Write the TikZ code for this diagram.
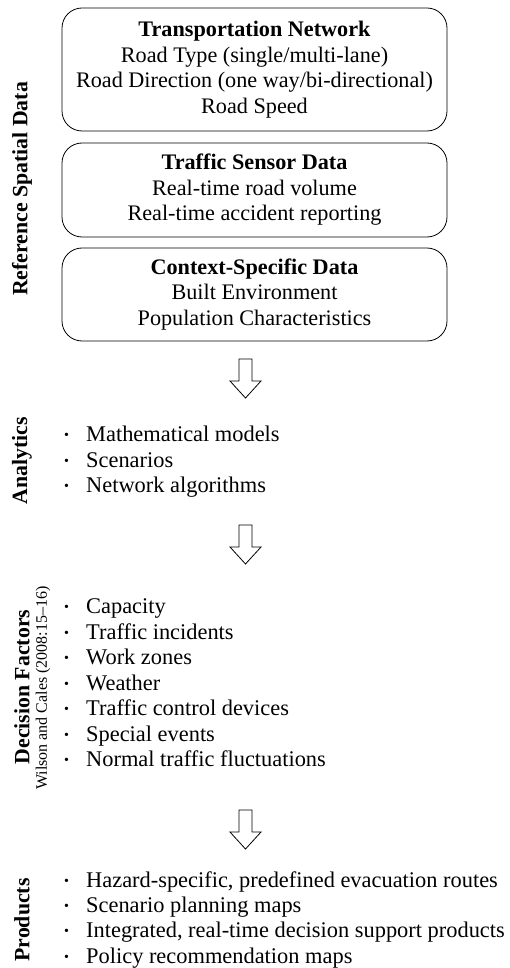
\documentclass[tikz,border=0pt]{standalone}
\usepackage{fontspec}
\setmainfont{Liberation Serif}
\usetikzlibrary{positioning,calc}
\newcommand{\itembul}{\makebox[22pt][l]{\raisebox{2pt}{\fontsize{14}{14}\selectfont\textbullet}}}

\begin{document}
\begin{tikzpicture}[x=1pt, y=-1pt,
    databox/.style={rectangle, rounded corners=20pt, draw=black, line width=0.8pt,
                minimum width=385pt, align=center, inner sep=0pt,
                font=\fontsize{22.2}{25.5}\selectfont},
    sidelabel/.style={rotate=90, inner sep=0pt,
                font=\fontsize{21.8}{25}\selectfont\bfseries},
    srcnote/.style={rotate=90, inner sep=0pt, font=\fontsize{16}{18}\selectfont},
    listitem/.style={anchor=base west, inner sep=0pt,
                font=\fontsize{22.4}{25}\selectfont},
    flowarrow/.style={draw=black, line width=0.8pt, fill=white, line join=miter},
]
\useasboundingbox (0,0) rectangle (510,968);

% reference spatial data
\node[databox, minimum height=123pt] (transnet) at (254.5,69.5) {
    \textbf{Transportation Network}\\
    Road Type (single/multi-lane)\\
    Road Direction (one way/bi-directional)\\
    Road Speed
};
\node[databox, minimum height=94pt] (sensor) at (254.5,190) {
    \textbf{Traffic Sensor Data}\\
    Real-time road volume\\
    Real-time accident reporting
};
\node[databox, minimum height=93pt] (context) at (254.5,294.5) {
    \textbf{Context-Specific Data}\\
    Built Environment\\
    Population Characteristics
};
\node[sidelabel] (reflabel) at (22,189) {Reference Spatial Data};

% analytics
\node[listitem] (ana1) at (64,441) {\itembul Mathematical models};
\node[listitem] (ana2) at (64,467) {\itembul Scenarios};
\node[listitem] (ana3) at (64,492) {\itembul Network algorithms};
\node[sidelabel] (analabel) at (22,461) {Analytics};

% decision factors
\node[listitem] (dec1) at (64,613) {\itembul Capacity};
\node[listitem] (dec2) at (64,639) {\itembul Traffic incidents};
\node[listitem] (dec3) at (64,664) {\itembul Work zones};
\node[listitem] (dec4) at (64,690) {\itembul Weather};
\node[listitem] (dec5) at (64,715) {\itembul Traffic control devices};
\node[listitem] (dec6) at (64,741) {\itembul Special events};
\node[listitem] (dec7) at (64,766) {\itembul Normal traffic fluctuations};
\node[sidelabel] (declabel) at (22,687) {Decision Factors};
\node[srcnote] (decnote) at (43,688) {Wilson and Cales (2008:15--16)};

% products
\node[listitem] (prod1) at (64,887) {\itembul Hazard-specific, predefined evacuation routes};
\node[listitem] (prod2) at (64,912) {\itembul Scenario planning maps};
\node[listitem] (prod3) at (64,937) {\itembul Integrated, real-time decision support products};
\node[listitem] (prod4) at (64,963) {\itembul Policy recommendation maps};
\node[sidelabel] (prodlabel) at (22,920) {Products};

% block arrows between the stages
\foreach \t [count=\k] in {359,525,810} {
    \coordinate (a\k) at (245.5,\t);
    \draw[flowarrow] ($(a\k)+(-6.5,0)$) -- ++(0,22) -- ++(-9,0) -- ($(a\k)+(0,39)$)
        -- ($(a\k)+(15.5,22)$) -- ++(-9,0) -- ($(a\k)+(6.5,0)$) -- cycle;
}

\end{tikzpicture}
\end{document}
